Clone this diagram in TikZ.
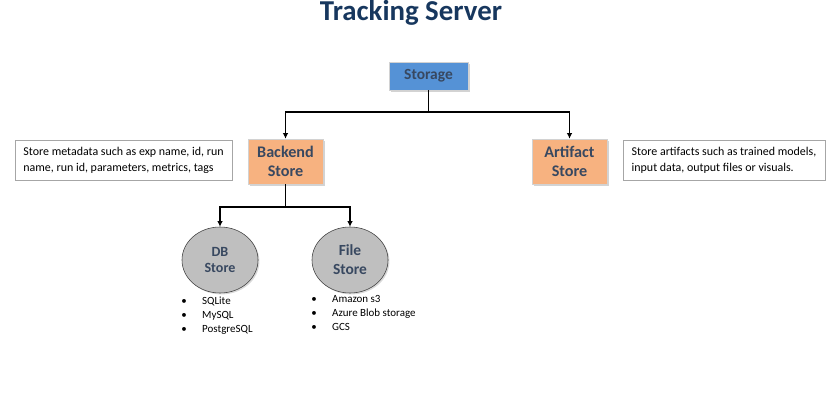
\documentclass[tikz,border=0pt]{standalone}
\usepackage{fontspec}
\setmainfont{Carlito}
\usetikzlibrary{arrows.meta, positioning, shapes.geometric, shadows}
\definecolor{titleblue}{RGB}{23,55,94}
\definecolor{slate}{RGB}{56,72,96}
\definecolor{storeblue}{RGB}{85,146,214}
\definecolor{storeorange}{RGB}{247,178,128}
\definecolor{storegray}{RGB}{191,191,191}

\begin{document}
\begin{tikzpicture}[
  x=0.025cm, y=-0.025cm,
  box/.style={draw=gray!35, align=center, text=slate, font=\bfseries,
              drop shadow={shadow xshift=1.2pt, shadow yshift=-1.2pt, opacity=0.35}},
  note/.style={draw=gray!70, align=left, inner sep=5pt,
               font=\fontsize{8.5}{11.4}\selectfont},
  store/.style={ellipse, draw=black!75, fill=storegray, align=center,
                text=slate, minimum width=1.9cm, minimum height=1.65cm, inner sep=0pt,
                drop shadow={shadow xshift=1pt, shadow yshift=-1pt, opacity=0.3}},
  items/.style={align=left, anchor=north west, inner sep=0pt,
                font=\fontsize{7.8}{10}\selectfont},
  arrow/.style={-{Latex[length=4pt,width=4pt]}, line width=0.8pt}
]
\useasboundingbox (0,0) rectangle (840,400);

%% ---- title ----
\node[text=titleblue, font=\fontsize{20.5}{24}\selectfont\bfseries] (title) at (411,13) {Tracking Server};

%% ---- top level ----
\node[box, fill=storeblue, minimum width=1.975cm, minimum height=0.7cm,
      font=\fontsize{11}{13}\selectfont\bfseries] (storage) at (428.5,76) {Storage};

\node[box, fill=storeorange, minimum width=1.875cm, minimum height=1.125cm,
      font=\fontsize{11.5}{13.5}\selectfont\bfseries] (backend) at (285.5,161.5) {Backend\\Store};
\node[box, fill=storeorange, minimum width=1.875cm, minimum height=1.125cm,
      font=\fontsize{11.5}{13.5}\selectfont\bfseries] (artifact) at (569.5,161.5) {Artifact\\Store};

\coordinate (split1) at (428.5,112);
\draw[arrow] (storage.south) -- (split1) -| (backend.north);
\draw[arrow] (storage.south) -- (split1) -| (artifact.north);

%% ---- notes ----
\node[note, minimum width=5.425cm, minimum height=0.875cm] (backnote) at (123.5,160.5)
  {Store metadata such as exp name, id, run\\name, run id, parameters, metrics, tags};
\node[note, minimum width=5.05cm, minimum height=0.875cm] (artnote) at (724,160.5)
  {Store artifacts such as trained models,\\input data, output files or visuals.};

%% ---- backend stores ----
\node[store, font=\fontsize{10}{11.4}\selectfont\bfseries] (dbstore) at (220,260) {DB\\Store};
\node[store, font=\fontsize{11}{13.5}\selectfont\bfseries] (filestore) at (350,260) {File\\Store};

\coordinate (split2) at (285.5,207);
\draw[arrow] (backend.south) -- (split2) -| (dbstore.north);
\draw[arrow] (backend.south) -- (split2) -| (filestore.north);

%% ---- bullet lists ----
\node[items] (dblist) at (181,294)
  {\begin{tabular}{@{}l@{\hspace{11pt}}l@{}}
   \textbullet & SQLite\\ \textbullet & MySQL\\ \textbullet & PostgreSQL
   \end{tabular}};
\node[items] (filelist) at (311,292)
  {\begin{tabular}{@{}l@{\hspace{11pt}}l@{}}
   \textbullet & Amazon s3\\ \textbullet & Azure Blob storage\\ \textbullet & GCS
   \end{tabular}};

\end{tikzpicture}
\end{document}
